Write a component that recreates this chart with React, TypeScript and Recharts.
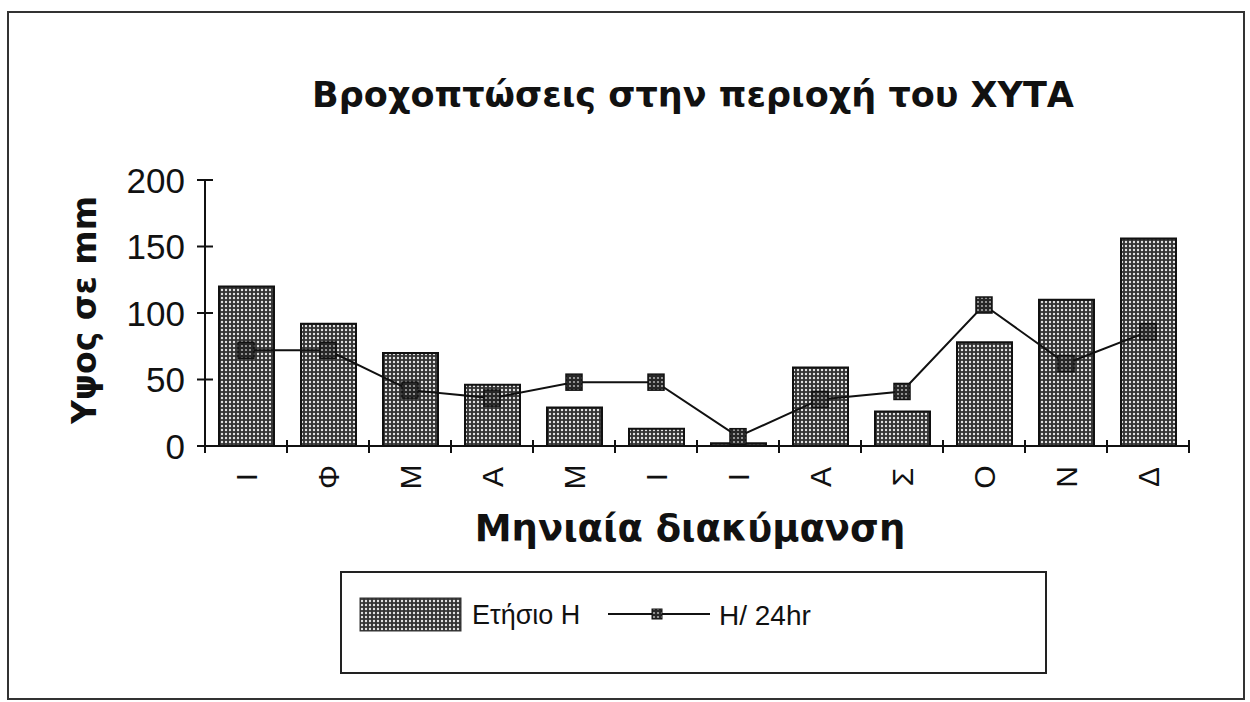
import React from "react";
import {
  ComposedChart,
  Bar,
  Line,
  XAxis,
  YAxis,
} from "recharts";

const months = ["Ι", "Φ", "Μ", "Α", "Μ", "Ι", "Ι", "Α", "Σ", "Ο", "Ν", "Δ"];
const annualRain = [120, 92, 70, 46, 29, 13, 2, 59, 26, 78, 110, 156];
const dailyRain = [72, 72, 42, 36, 48, 48, 7, 35, 41, 106, 62, 86];
const yTicks = [0, 50, 100, 150, 200];

const data = months.map((m, i) => ({
  key: i,
  month: m,
  annual: annualRain[i],
  daily: dailyRain[i],
}));

const INK = "#111";
const SANS = "'Liberation Sans', Arial, sans-serif";
const WIDE = "'DejaVu Sans', Verdana, sans-serif";

function YTick(props: any) {
  const { x, y, payload } = props;
  const axisX = x + 20;
  return (
    <g>
      <line x1={axisX - 8} x2={axisX + 8} y1={y} y2={y} stroke={INK} strokeWidth={2} />
      <text
        x={x}
        y={y}
        textAnchor="end"
        dominantBaseline="central"
        fontFamily={SANS}
        fontSize={35}
        fill={INK}
      >
        {payload.value}
      </text>
    </g>
  );
}

function XTick(props: any) {
  const { x, y, payload, index, visibleTicksCount } = props;
  const axisY = y - 31;
  const half = payload.offset ?? 41;
  const last = index === (visibleTicksCount ?? months.length) - 1;
  return (
    <g>
      <line x1={x - half} x2={x - half} y1={axisY - 6} y2={axisY + 7} stroke={INK} strokeWidth={2} />
      {last && (
        <line x1={x + half} x2={x + half} y1={axisY - 6} y2={axisY + 7} stroke={INK} strokeWidth={2} />
      )}
      <text
        x={x}
        y={y}
        textAnchor="middle"
        dominantBaseline="central"
        fontFamily={SANS}
        fontSize={30}
        fill={INK}
        transform={`rotate(-90 ${x} ${y})`}
      >
        {months[index] ?? payload.value}
      </text>
    </g>
  );
}

function SquareDot(props: any) {
  const { cx, cy, index } = props;
  if (cx == null || cy == null) return <g key={index} />;
  return (
    <rect
      key={index}
      x={cx - 8}
      y={cy - 8}
      width={16}
      height={16}
      fill="url(#dotsDark)"
      stroke={INK}
      strokeWidth={1.5}
    />
  );
}

export default function App() {
  return (
    <div
      style={{
        position: "absolute",
        left: 0,
        top: 0,
        width: 1250,
        height: 702,
        background: "#fff",
        overflow: "hidden",
      }}
    >
      <svg width={0} height={0} style={{ position: "absolute" }}>
        <defs>
          <pattern id="dots" width={4} height={4} patternUnits="userSpaceOnUse">
            <rect width={4} height={4} fill="#333333" />
            <circle cx={2} cy={2} r={1.2} fill="#e4e4e4" />
          </pattern>
          <pattern id="dotsDark" width={4} height={4} patternUnits="userSpaceOnUse">
            <rect width={4} height={4} fill="#262626" />
            <circle cx={2} cy={2} r={1.1} fill="#aaaaaa" />
          </pattern>
        </defs>
      </svg>

      {/* outer frame */}
      <div
        style={{
          position: "absolute",
          left: 7,
          top: 11,
          width: 1234,
          height: 685,
          border: "2px solid #333",
        }}
      />

      {/* title */}
      <div
        style={{
          position: "absolute",
          left: 0,
          width: 1386,
          top: 75,
          textAlign: "center",
          fontFamily: WIDE,
          fontWeight: "bold",
          fontSize: 35,
          color: INK,
          whiteSpace: "nowrap",
        }}
      >
        Βροχοπτώσεις στην περιοχή του ΧΥΤΑ
      </div>

      <div style={{ position: "absolute", left: 0, top: 0 }}>
        <ComposedChart
          width={1250}
          height={702}
          data={data}
          margin={{ top: 180, right: 61, bottom: 156, left: 105 }}
        >
          <XAxis
            dataKey="key"
            type="category"
            height={100}
            axisLine={{ stroke: INK, strokeWidth: 2 }}
            tickLine={false}
            tickSize={0}
            tickMargin={31}
            interval={0}
            tick={<XTick />}
            label={{
              content: (p: any) => {
                const vb = p.viewBox || { x: 205, y: 446, width: 984 };
                const cx = vb.x + vb.width / 2 - 7;
                return (
                  <text
                    x={cx}
                    y={vb.y + 82}
                    textAnchor="middle"
                    dominantBaseline="central"
                    fontFamily={WIDE}
                    fontWeight="bold"
                    fontSize={37}
                    fill={INK}
                  >
                    Μηνιαία διακύμανση
                  </text>
                );
              },
            }}
          />
          <YAxis
            type="number"
            domain={[0, 200]}
            ticks={yTicks}
            width={100}
            axisLine={{ stroke: INK, strokeWidth: 2 }}
            tickLine={false}
            tickSize={0}
            tickMargin={20}
            tick={<YTick />}
            label={{
              content: (p: any) => {
                const vb = p.viewBox || { x: 105, y: 180, height: 266 };
                const cx = 84;
                const cy = vb.y + vb.height / 2 - 3;
                return (
                  <text
                    x={cx}
                    y={cy}
                    textAnchor="middle"
                    dominantBaseline="central"
                    fontFamily={WIDE}
                    fontWeight="bold"
                    fontSize={33}
                    fill={INK}
                    transform={`rotate(-90 ${cx} ${cy})`}
                  >
                    Υψος σε mm
                  </text>
                );
              },
            }}
          />
          <Bar
            dataKey="annual"
            name="Ετήσιο Η"
            barSize={55}
            fill="url(#dots)"
            stroke={INK}
            strokeWidth={2}
            isAnimationActive={false}
          />
          <Line
            dataKey="daily"
            name="Η/ 24hr"
            type="linear"
            stroke={INK}
            strokeWidth={2}
            dot={<SquareDot />}
            activeDot={false}
            isAnimationActive={false}
          />
        </ComposedChart>
      </div>

      {/* legend */}
      <div
        style={{
          position: "absolute",
          left: 340,
          top: 571,
          width: 707,
          height: 103,
          border: "2px solid #222",
          boxSizing: "border-box",
        }}
      >
        <svg width={707} height={103} style={{ position: "absolute", left: -2, top: -2 }}>
          <rect x={20} y={27} width={101} height={33} fill="url(#dots)" stroke="#333" strokeWidth={1} />
          <text
            x={132}
            y={44}
            dominantBaseline="central"
            fontFamily={SANS}
            fontSize={27}
            fill={INK}
          >
            Ετήσιο Η
          </text>
          <line x1={268} x2={370} y1={43} y2={43} stroke={INK} strokeWidth={2} />
          <rect x={312} y={38} width={10} height={10} fill="url(#dotsDark)" stroke={INK} strokeWidth={1} />
          <text
            x={379}
            y={44}
            dominantBaseline="central"
            fontFamily={SANS}
            fontSize={28}
            fill={INK}
          >
            Η/ 24hr
          </text>
        </svg>
      </div>
    </div>
  );
}
